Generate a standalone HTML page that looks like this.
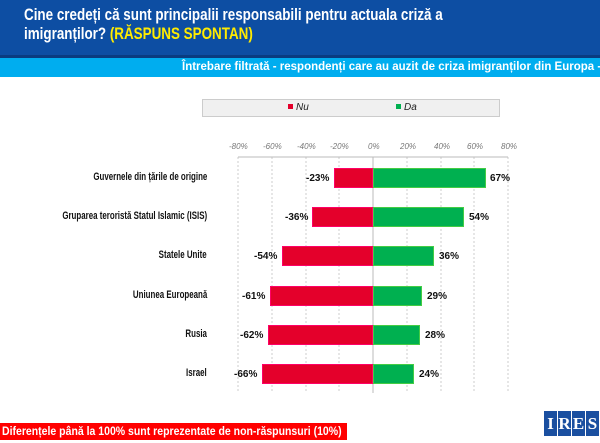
<!DOCTYPE html>
<html><head><meta charset="utf-8"><style>
body{margin:0;width:600px;height:443px;overflow:hidden;background:#fff;font-family:"Liberation Sans",sans-serif;position:relative}
.h{position:absolute;left:0;top:0;width:600px;height:55px;background:#0d4ea3}
.h div{position:absolute;left:24px;top:5px;color:#fff;font-weight:bold;font-size:17px;line-height:19px;white-space:nowrap;transform:scaleX(0.79);transform-origin:left top}
.h span{color:#ffeb00}
.dl{position:absolute;left:0;top:55px;width:600px;height:3px;background:#0a3c80}
.c{position:absolute;left:0;top:58px;width:600px;height:19px;background:#00adef;overflow:hidden}
.c div{position:absolute;left:182px;top:0;color:#fff;font-size:11.5px;font-weight:bold;line-height:19px;white-space:nowrap}
.lg{position:absolute;left:202px;top:99px;width:296px;height:16px;background:#f0f0f0;border:1px solid #ccc;font-size:10px;font-style:italic;color:#222}
.t{position:absolute;font-size:8px;color:#777;font-style:italic}
.lab{position:absolute;right:393px;font-size:11px;font-weight:bold;color:#111;white-space:nowrap;transform:scaleX(0.72);transform-origin:right top}
.v{position:absolute;font-size:10px;font-weight:bold;color:#111}
.bar{position:absolute;height:20px;box-sizing:border-box}
.r{background:#e4002b;border:1px solid #f06}
.g{background:#00b050;border:1px solid #4c4}
.f{position:absolute;left:0;top:423px;width:347px;height:17px;background:#f00;overflow:hidden}
.f div{position:absolute;left:2px;top:0;color:#fff;font-size:12px;font-weight:bold;line-height:17px;white-space:nowrap;transform:scaleX(0.875);transform-origin:left top}
.logo{position:absolute;top:411px;width:13px;height:25px;background:#1a4fa0;color:#fff;font-family:"Liberation Serif",serif;font-weight:bold;font-size:17px;text-align:center;line-height:25px}
</style></head><body>
<div class="h"><div>Cine credeți că sunt principalii responsabili pentru actuala criză a<br>imigranților? <span>(RĂSPUNS SPONTAN)</span></div></div>
<div class="dl"></div>
<div class="c"><div>Întrebare filtrată - respondenți care au auzit de criza imigranților din Europa - 8</div></div>
<div class="lg"><span style="position:absolute;left:85px;top:2px"><b style="display:inline-block;width:5px;height:5px;background:#e4002b;margin-right:3px;vertical-align:1px"></b>Nu</span><span style="position:absolute;left:193px;top:2px"><b style="display:inline-block;width:5px;height:5px;background:#00b050;margin-right:3px;vertical-align:1px"></b>Da</span></div>
<svg style="position:absolute;left:0;top:0" width="600" height="443">
<g stroke="#ccc" stroke-dasharray="2,2">
<line x1="238" y1="157" x2="238" y2="393"/><line x1="272" y1="157" x2="272" y2="393"/><line x1="306" y1="157" x2="306" y2="393"/><line x1="339" y1="157" x2="339" y2="393"/><line x1="407" y1="157" x2="407" y2="393"/><line x1="441" y1="157" x2="441" y2="393"/><line x1="474" y1="157" x2="474" y2="393"/><line x1="508" y1="157" x2="508" y2="393"/>
</g>
<line x1="238" y1="157" x2="508" y2="157" stroke="#bbb"/>
<line x1="373" y1="157" x2="373" y2="393" stroke="#bbb"/>
</svg>
<div class="t" style="left:229px;top:142px">-80%</div><div class="t" style="left:263px;top:142px">-60%</div><div class="t" style="left:297px;top:142px">-40%</div><div class="t" style="left:330px;top:142px">-20%</div><div class="t" style="left:368px;top:142px">0%</div><div class="t" style="left:400px;top:142px">20%</div><div class="t" style="left:434px;top:142px">40%</div><div class="t" style="left:467px;top:142px">60%</div><div class="t" style="left:501px;top:142px">80%</div>

<div class="lab" style="top:171px">Guvernele din țările de origine</div>
<div class="bar r" style="left:334px;width:39px;top:168px"></div><div class="bar g" style="left:373px;width:113px;top:168px"></div>
<div class="v" style="left:306px;top:173px">-23%</div><div class="v" style="left:490px;top:173px">67%</div>

<div class="lab" style="top:210px">Gruparea teroristă Statul Islamic (ISIS)</div>
<div class="bar r" style="left:312px;width:61px;top:207px"></div><div class="bar g" style="left:373px;width:91px;top:207px"></div>
<div class="v" style="left:285px;top:212px">-36%</div><div class="v" style="left:469px;top:212px">54%</div>

<div class="lab" style="top:249px">Statele Unite</div>
<div class="bar r" style="left:282px;width:91px;top:246px"></div><div class="bar g" style="left:373px;width:61px;top:246px"></div>
<div class="v" style="left:254px;top:251px">-54%</div><div class="v" style="left:439px;top:251px">36%</div>

<div class="lab" style="top:289px">Uniunea Europeană</div>
<div class="bar r" style="left:270px;width:103px;top:286px"></div><div class="bar g" style="left:373px;width:49px;top:286px"></div>
<div class="v" style="left:242px;top:291px">-61%</div><div class="v" style="left:427px;top:291px">29%</div>

<div class="lab" style="top:328px">Rusia</div>
<div class="bar r" style="left:268px;width:105px;top:325px"></div><div class="bar g" style="left:373px;width:47px;top:325px"></div>
<div class="v" style="left:240px;top:330px">-62%</div><div class="v" style="left:425px;top:330px">28%</div>

<div class="lab" style="top:367px">Israel</div>
<div class="bar r" style="left:262px;width:111px;top:364px"></div><div class="bar g" style="left:373px;width:41px;top:364px"></div>
<div class="v" style="left:234px;top:369px">-66%</div><div class="v" style="left:419px;top:369px">24%</div>

<div class="f"><div>Diferențele până la 100% sunt reprezentate de non-răspunsuri (10%)</div></div>
<div class="logo" style="left:544px">I</div><div class="logo" style="left:558px">R</div><div class="logo" style="left:572px">E</div><div class="logo" style="left:586px">S</div>
</body></html>
